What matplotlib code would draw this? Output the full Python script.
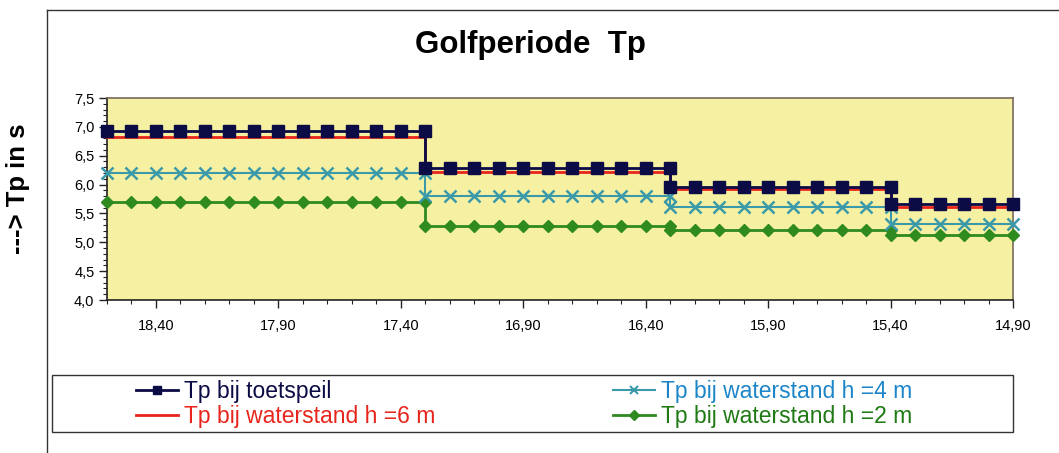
import matplotlib
matplotlib.use('Agg')
from matplotlib import pyplot as plt
from matplotlib.ticker import MultipleLocator, FuncFormatter
from matplotlib.lines import Line2D
from matplotlib.patches import Rectangle

TITLE = 'Golfperiode  Tp'
YLABEL = '---> Tp in s'
FONT = ['Liberation Sans', 'DejaVu Sans']

# x values (m), the chart repeats the x at each jump
x_vals = [18.6, 18.5, 18.4, 18.3, 18.2, 18.1, 18.0, 17.9, 17.8, 17.7, 17.6, 17.5, 17.4, 17.3,
          17.3, 17.2, 17.1, 17.0, 16.9, 16.8, 16.7, 16.6, 16.5, 16.4, 16.3,
          16.3, 16.2, 16.1, 16.0, 15.9, 15.8, 15.7, 15.6, 15.5, 15.4,
          15.4, 15.3, 15.2, 15.1, 15.0, 14.9]

tp_toetspeil = [6.92, 6.92, 6.92, 6.92, 6.92, 6.92, 6.92, 6.92, 6.92, 6.92, 6.92, 6.92, 6.92, 6.92,
                6.29, 6.29, 6.29, 6.29, 6.29, 6.29, 6.29, 6.29, 6.29, 6.29, 6.29,
                5.96, 5.96, 5.96, 5.96, 5.96, 5.96, 5.96, 5.96, 5.96, 5.96,
                5.67, 5.67, 5.67, 5.67, 5.67, 5.67]

tp_h6 = [6.82, 6.82, 6.82, 6.82, 6.82, 6.82, 6.82, 6.82, 6.82, 6.82, 6.82, 6.82, 6.82, 6.82,
         6.22, 6.22, 6.22, 6.22, 6.22, 6.22, 6.22, 6.22, 6.22, 6.22, 6.22,
         5.92, 5.92, 5.92, 5.92, 5.92, 5.92, 5.92, 5.92, 5.92, 5.92,
         5.62, 5.62, 5.62, 5.62, 5.62, 5.62]

tp_h4 = [6.20, 6.20, 6.20, 6.20, 6.20, 6.20, 6.20, 6.20, 6.20, 6.20, 6.20, 6.20, 6.20, 6.20,
         5.80, 5.80, 5.80, 5.80, 5.80, 5.80, 5.80, 5.80, 5.80, 5.80, 5.80,
         5.62, 5.62, 5.62, 5.62, 5.62, 5.62, 5.62, 5.62, 5.62, 5.62,
         5.32, 5.32, 5.32, 5.32, 5.32, 5.32]

tp_h2 = [5.70, 5.70, 5.70, 5.70, 5.70, 5.70, 5.70, 5.70, 5.70, 5.70, 5.70, 5.70, 5.70, 5.70,
         5.29, 5.29, 5.29, 5.29, 5.29, 5.29, 5.29, 5.29, 5.29, 5.29, 5.29,
         5.21, 5.21, 5.21, 5.21, 5.21, 5.21, 5.21, 5.21, 5.21, 5.21,
         5.13, 5.13, 5.13, 5.13, 5.13, 5.13]

x_ticks = [18.4, 17.9, 17.4, 16.9, 16.4, 15.9, 15.4, 14.9]
y_ticks = [4.0, 4.5, 5.0, 5.5, 6.0, 6.5, 7.0, 7.5]

NAVY = '#0b0b45'
RED = '#e8251c'
TEAL = '#3b9aaa'
TEAL_TEXT = '#1d86c9'
GREEN = '#2f8a1f'
GREEN_TEXT = '#1f7a14'

plt.rcParams['font.family'] = FONT

fig = plt.figure(figsize=(10.59, 4.53), dpi=100)
ax = fig.add_axes([107 / 1059, 1 - 300 / 453, 906 / 1059, 202 / 453])
ax.set_facecolor('#f6f0a2')

ax.plot(x_vals, tp_h2, color=GREEN, linewidth=2, marker='D', markersize=6.5,
        markerfacecolor=GREEN, markeredgecolor=GREEN, clip_on=False, zorder=3)
ax.plot(x_vals, tp_h4, color=TEAL, linewidth=1.5, marker='x', markersize=8,
        markeredgewidth=1.8, clip_on=False, zorder=4)
ax.plot(x_vals, tp_h6, color=RED, linewidth=2, clip_on=False, zorder=5)
ax.plot(x_vals, tp_toetspeil, color=NAVY, linewidth=2, marker='s', markersize=8.5,
        clip_on=False, zorder=6)

ax.set_xlim(18.6, 14.9)
ax.set_ylim(4.0, 7.5)
ax.set_xticks(x_ticks)
ax.set_yticks(y_ticks)
ax.xaxis.set_minor_locator(MultipleLocator(0.1))
ax.yaxis.set_minor_locator(MultipleLocator(0.1))
ax.xaxis.set_major_formatter(FuncFormatter(lambda v, pos: f'{v:.2f}'.replace('.', ',')))
ax.yaxis.set_major_formatter(FuncFormatter(lambda v, pos: f'{v:.1f}'.replace('.', ',')))
ax.tick_params(axis='both', which='major', direction='out', length=6, width=1,
               labelsize=10.5, color='#222222')
ax.tick_params(axis='both', which='minor', direction='out', length=3, width=0.8,
               color='#222222')
ax.tick_params(axis='x', which='major', pad=8)
ax.tick_params(axis='y', which='major', pad=3)
for side in ['left', 'bottom']:
    ax.spines[side].set_color('#222222')
    ax.spines[side].set_linewidth(1.2)
for side in ['top', 'right']:
    ax.spines[side].set_color('#7a6a5a')
    ax.spines[side].set_linewidth(1.2)

fig.text(530 / 1059, 1 - 45 / 453, TITLE, ha='center', va='center',
         fontsize=22.5, fontweight='bold')
fig.text(18 / 1059, 1 - 189 / 453, YLABEL, ha='center', va='center',
         rotation=90, fontsize=18.5, fontweight='bold')

# outer chart frame
fig.add_artist(Line2D([47 / 1059, 47 / 1059], [0, 1 - 10 / 453], color='#333333',
                      linewidth=1, transform=fig.transFigure))
fig.add_artist(Line2D([47 / 1059, 1], [1 - 10 / 453, 1 - 10 / 453], color='#333333',
                      linewidth=1, transform=fig.transFigure))

# legend frame
fig.add_artist(Rectangle((52 / 1059, 1 - 432 / 453), 961 / 1059, 57 / 453,
                         transform=fig.transFigure, fill=False,
                         edgecolor='#333333', linewidth=1))

handles = [
    Line2D([], [], color=NAVY, linewidth=2, marker='s', markersize=6),
    Line2D([], [], color=RED, linewidth=2),
    Line2D([], [], color=TEAL, linewidth=1.5, marker='x', markersize=6, markeredgewidth=1.5),
    Line2D([], [], color=GREEN, linewidth=2, marker='D', markersize=5),
]
labels = ['Tp bij toetspeil', 'Tp bij waterstand h =6 m',
          'Tp bij waterstand h =4 m', 'Tp bij waterstand h =2 m']
text_colors = [NAVY, RED, TEAL_TEXT, GREEN_TEXT]
leg = fig.legend(handles, labels, ncol=2, loc='center',
                 bbox_to_anchor=(524.5 / 1059, 1 - 404 / 453),
                 frameon=False, fontsize=16.5, handlelength=1.8, handletextpad=0.3,
                 columnspacing=7.75, labelspacing=0.1, borderpad=0)
for txt, col in zip(leg.get_texts(), text_colors):
    txt.set_color(col)

fig.savefig('out.png', dpi=100)
